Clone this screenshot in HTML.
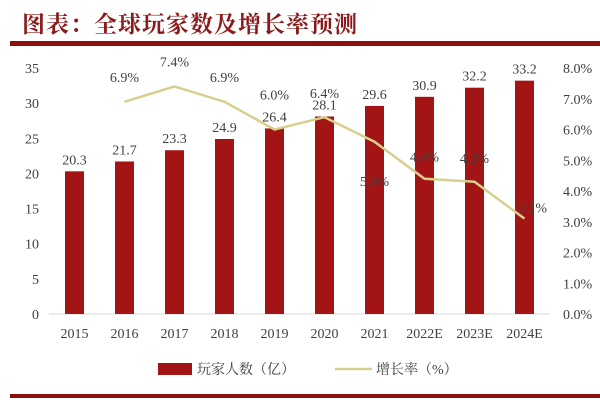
<!DOCTYPE html>
<html><head><meta charset="utf-8"><style>
body{margin:0;background:#fff;}
svg{display:block;}
text{font-family:"Liberation Serif","Noto Serif CJK SC",serif;fill:#404040;}
</style></head><body>
<svg id="chart" width="600" height="400" viewBox="0 0 600 400">
<text x="22" y="32" style="font-family:'Liberation Serif','Noto Serif CJK SC',serif;font-size:23px;font-weight:bold;fill:#8b1a1a;letter-spacing:1px">图表：全球玩家数及增长率预测</text>
<rect x="10" y="41" width="590" height="5" fill="#8b0f0f"/>
<rect x="10" y="394" width="590" height="4" fill="#8b0f0f"/>
<line x1="49" y1="314" x2="550" y2="314" stroke="#d9d9d9" stroke-width="1"/>
<g id="marks"></g>
<g>
<rect x="158" y="363" width="34" height="12" fill="#a31515"/>
<text x="197" y="374" style="font-size:14px">玩家人数（亿）</text>
<line x1="335" y1="369" x2="372" y2="369" stroke="#d8cf8e" stroke-width="2.5"/>
<text x="376" y="374" style="font-size:14px">增长率（%）</text>
</g>
</svg>
<script>
const categories=["2015","2016","2017","2018","2019","2020","2021","2022E","2023E","2024E"];
const players=[20.3,21.7,23.3,24.9,26.4,28.1,29.6,30.9,32.2,33.2];
const growth=[null,6.9,7.4,6.9,6.0,6.4,5.6,4.4,4.3,3.1];
const leftTicks=[0,5,10,15,20,25,30,35];
const rightTicks=[0,1,2,3,4,5,6,7,8];
const growthLabelDy=[0,-25,-25,-25,-35,-24,39,-22,-24,-11];
const growthLabelDx=[0,0,0,0,0,0,0,0,0,8];

const NS="http://www.w3.org/2000/svg";
const g=document.getElementById('marks');
const x0=49.5,bandW=50,y0=314,yTop=68;
const xC=i=>x0+bandW*(i+0.5);
const yL=v=>y0-(v/35)*(y0-yTop);
const yR=v=>y0-(v/8)*(y0-yTop);
function mk(tag,attrs,txt){const e=document.createElementNS(NS,tag);for(const k in attrs)e.setAttribute(k,attrs[k]);if(txt!=null)e.textContent=txt;g.appendChild(e);return e;}

leftTicks.forEach(v=>{
 const t=mk('text',{x:39,y:yL(v)+5,'text-anchor':'end','font-size':14},String(v));
 
 
});
rightTicks.forEach(v=>{
 const t=mk('text',{x:563,y:yR(v)+5,'font-size':14},v.toFixed(1)+'%');
 
 
});
categories.forEach((c,i)=>{
 const t=mk('text',{x:xC(i),y:338,'text-anchor':'middle','font-size':14},c);
 
 
});
players.forEach((v,i)=>{
 const b=mk('rect',{x:xC(i)-9.5,y:yL(v),width:19,height:y0-yL(v),fill:'#a31515'});
 
 
 const t=mk('text',{x:xC(i),y:yL(v)-7,'text-anchor':'middle','font-size':14},v.toFixed(1));
 
 
});
let d='';
growth.forEach((v,i)=>{if(v==null)return;d+=(d?'L':'M')+xC(i)+' '+yR(v);});
const ln=mk('path',{d:d,fill:'none',stroke:'#d8cf8e','stroke-width':2.5,'stroke-linejoin':'round'});


growth.forEach((v,i)=>{
 if(v==null)return;
 const t=mk('text',{x:xC(i)+growthLabelDx[i],y:yR(v)+growthLabelDy[i]+5,'text-anchor':'middle','font-size':14},v.toFixed(1)+'%');
 
 
});
</script>
</body></html>
